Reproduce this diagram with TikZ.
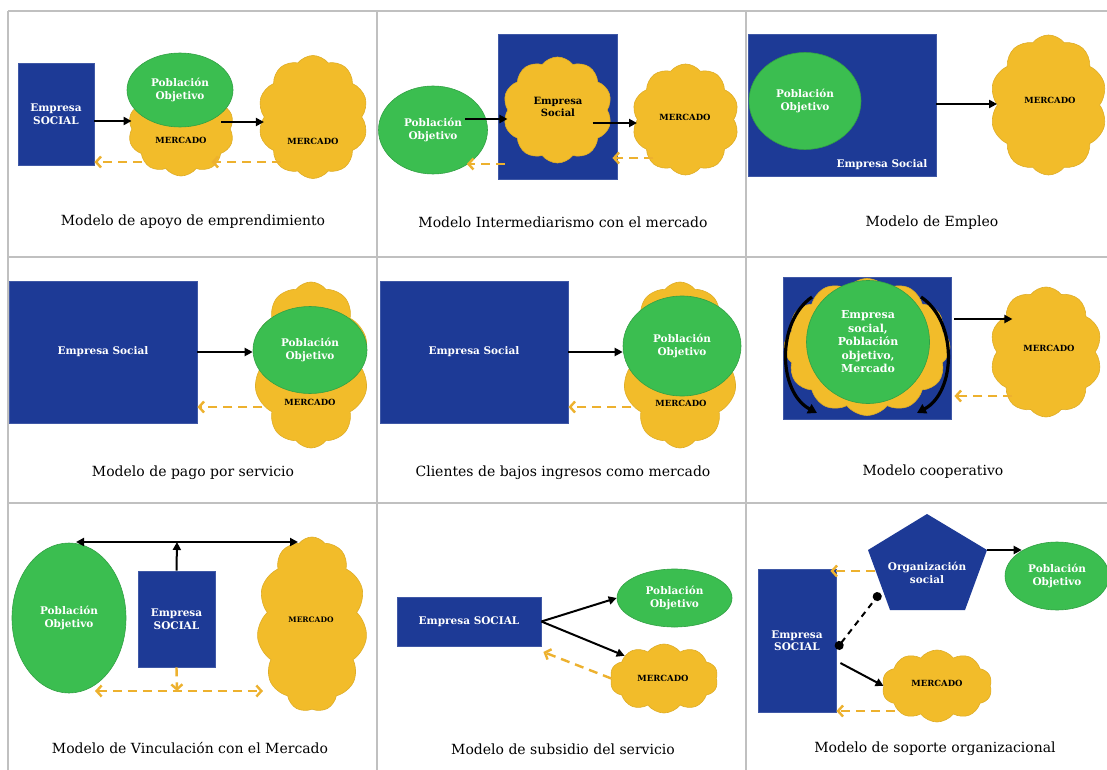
\documentclass[tikz,border=0pt]{standalone}
\usepackage{fontspec}
\setmainfont{DejaVu Serif}
\usetikzlibrary{shapes.geometric,shapes.symbols,arrows.meta}
\definecolor{esblue}{HTML}{1D3A96}
\definecolor{esgreen}{HTML}{3BBE50}
\definecolor{esgold}{HTML}{F2BC2A}
\definecolor{esdash}{HTML}{EDB12E}
\definecolor{gridgray}{HTML}{C0C0C0}
\tikzset{
  gridline/.style={draw=gridgray, line width=1.3pt},
  blk/.style={rectangle, fill=esblue, draw=esblue!85!white, line width=0.8pt, inner sep=0pt, text=white, font=\fontsize{10.5}{12.5}\selectfont\bfseries, align=center},
  lblw/.style={text=white, font=\fontsize{10.5}{12.5}\selectfont\bfseries, align=center, inner sep=0pt},
  lblk/.style={text=black, font=\fontsize{8.5}{10}\selectfont\bfseries, align=center, inner sep=0pt},
  grn/.style={ellipse, fill=esgreen, draw=esgreen!85!black, line width=0.6pt, inner sep=0pt, text=white, font=\fontsize{10.5}{12.5}\selectfont\bfseries, align=center},
  cld/.style={cloud, cloud puffs=10, cloud puff arc=105, cloud ignores aspect, fill=esgold, draw=esgold!92!black, line width=0.6pt, inner sep=0pt},
  captxt/.style={font=\fontsize{14}{16}\selectfont, text=black, inner sep=0pt},
  arr/.style={draw=black, line width=2pt, -{Triangle[length=8pt,width=8pt]}},
  darr/.style={draw=esdash, line width=2.4pt, dash pattern=on 9pt off 6pt, -{Straight Barb[length=5pt,width=11pt,line width=2.4pt]}},
}
\begin{document}
\begin{tikzpicture}[x=1pt,y=-1pt]
\useasboundingbox (0,0) rectangle (1107,770);
\fill[white] (0,0) rectangle (1107,770);
% grid
\draw[gridline] (8,11) -- (1107,11);
\draw[gridline] (8,257) -- (1107,257);
\draw[gridline] (8,503) -- (1107,503);
\draw[gridline] (8,11) -- (8,770);
\draw[gridline] (377,11) -- (377,770);
\draw[gridline] (746,11) -- (746,770);

% ---------- Cell 1: apoyo de emprendimiento
\node[blk, minimum width=76pt, minimum height=102pt] (r1) at (56,114) {Empresa\\SOCIAL};
\node[cld, minimum width=106pt, minimum height=94pt] (c1a) at (181,129) {};
\node[grn, minimum width=106pt, minimum height=74pt] (e1) at (180,90) {Población\\Objetivo};
\node[lblk] (m1a) at (181,140) {MERCADO};
\node[cld, minimum width=110pt, minimum height=123pt] (c1b) at (313,117) {};
\node[lblk] (m1b) at (313,141) {MERCADO};
\draw[arr] (r1.east |- 0,121) -- (c1a.west |- 0,121);
\draw[arr] ([xshift=-9pt]c1a.east |- 0,122) -- (c1b.west |- 0,122);
\draw[darr] ([xshift=10pt]c1a.west |- 0,162) -- (r1.east |- 0,162);
\draw[darr] ([xshift=17pt]c1b.west |- 0,162) -- ([xshift=-19pt]c1a.east |- 0,162);
\node[captxt] (t1) at (193,222) {Modelo de apoyo de emprendimiento};

% ---------- Cell 2: intermediarismo
\node[blk, minimum width=119pt, minimum height=145pt] (r2) at (557.5,106.5) {};
\node[cld, minimum width=109pt, minimum height=106pt] (c2a) at (557.5,110) {};
\node[lblk, font=\fontsize{10}{12}\selectfont\bfseries] (s2) at (558,107) {Empresa\\Social};
\node[grn, minimum width=109pt, minimum height=88pt] (e2) at (433,130) {Población\\Objetivo};
\node[cld, minimum width=107pt, minimum height=111pt] (c2b) at (685.5,119.5) {};
\node[lblk] (m2) at (685,117) {MERCADO};
\draw[arr] ([xshift=-23pt]e2.east |- 0,119) -- (c2a.west |- 0,119);
\draw[arr] ([xshift=-15pt]c2a.east |- 0,123) -- (c2b.west |- 0,123);
\draw[darr] ([xshift=7pt]r2.west |- 0,164) -- ([xshift=-21pt]e2.east |- 0,164);
\draw[darr] ([xshift=16pt]c2b.west |- 0,158) -- ([xshift=-5pt]r2.east |- 0,158);
\node[captxt] (t2) at (563,222) {Modelo Intermediarismo con el mercado};

% ---------- Cell 3: empleo
\node[blk, minimum width=188pt, minimum height=142pt] (r3) at (842,105) {};
\node[grn, minimum width=112pt, minimum height=97pt] (e3) at (805,101) {Población\\Objetivo};
\node[lblw] (s3) at (882,165) {Empresa Social};
\node[cld, minimum width=117pt, minimum height=140pt] (c3) at (1048.5,105) {};
\node[lblk] (m3) at (1050,100) {MERCADO};
\draw[arr] (r3.east |- 0,104) -- (c3.west |- 0,104);
\node[captxt] (t3) at (932,223) {Modelo de Empleo};

% ---------- Cell 4: pago por servicio
\node[blk, minimum width=188pt, minimum height=142pt] (r4) at (103,352) {Empresa Social};
\node[cld, minimum width=116pt, minimum height=166pt] (c4) at (311,365) {};
\node[grn, minimum width=114pt, minimum height=87pt] (e4) at (310,350) {Población\\Objetivo};
\node[lblk] (m4) at (310,402) {MERCADO};
\draw[arr] (r4.east |- 0,352) -- (e4.west |- 0,352);
\draw[darr] (c4.west |- 0,407) -- (r4.east |- 0,407);
\node[captxt] (t4) at (193,473) {Modelo de pago por servicio};

% ---------- Cell 5: clientes de bajos ingresos
\node[blk, minimum width=188pt, minimum height=142pt] (r5) at (474,352) {Empresa Social};
\node[cld, minimum width=116pt, minimum height=166pt] (c5) at (680,365) {};
\node[grn, minimum width=118pt, minimum height=100pt] (e5) at (682,346) {Población\\Objetivo};
\node[lblk] (m5) at (681,403) {MERCADO};
\draw[arr] (r5.east |- 0,352) -- (e5.west |- 0,352);
\draw[darr] (c5.west |- 0,407) -- (r5.east |- 0,407);
\node[captxt] (t5) at (563,473) {Clientes de bajos ingresos como mercado};

% ---------- Cell 6: cooperativo
\node[blk, minimum width=168pt, minimum height=142pt] (r6) at (867,348) {};
\node[cld, cloud puffs=12, minimum width=166pt, minimum height=137pt] (c6a) at (867,347) {};
\node[grn, circle, minimum size=123pt, font=\fontsize{11}{13.5}\selectfont\bfseries] (e6) at (868,342) {Empresa\\social,\\Población\\objetivo,\\Mercado};
\coordinate (l6a) at (812,297);
\coordinate (l6b) at (817,413);
\coordinate (r6a) at (921,297);
\coordinate (r6b) at (917,413);
\draw[draw=black, line width=3.2pt, -{Triangle[length=9pt,width=10pt]}] (l6a) .. controls (776,322) and (778,392) .. (l6b);
\draw[draw=black, line width=3.2pt, -{Triangle[length=9pt,width=10pt]}] (r6a) .. controls (958,322) and (956,392) .. (r6b);
\node[cld, minimum width=112pt, minimum height=130pt] (c6b) at (1046,352) {};
\node[lblk] (m6) at (1049,348) {MERCADO};
\draw[arr] ([xshift=3pt]r6.east |- 0,319) -- ([xshift=16pt]c6b.west |- 0,319);
\draw[darr] ([xshift=16pt]c6b.west |- 0,396) -- ([xshift=3pt]r6.east |- 0,396);
\node[captxt] (t6) at (933,472) {Modelo cooperativo};

% ---------- Cell 7: vinculacion
\node[grn, minimum width=114pt, minimum height=150pt] (e7) at (69,618) {Población\\Objetivo};
\node[blk, minimum width=77pt, minimum height=96pt] (r7) at (176.5,619) {Empresa\\SOCIAL};
\node[cld, cloud puffs=11, minimum width=110pt, minimum height=175pt] (c7) at (312,624.5) {};
\node[lblk, font=\fontsize{7.5}{9}\selectfont\bfseries] (m7) at (311,620) {MERCADO};
\coordinate (j7) at (177,542);
\coordinate (a7) at (76,542);
\coordinate (b7) at (298,542);
\coordinate (k7) at (177,691);
\coordinate (p7) at (95,691);
\coordinate (q7) at (263,691);
\draw[arr] (r7.north) -- (j7);
\draw[draw=black, line width=2pt, {Triangle[length=8pt,width=8pt]}-{Triangle[length=8pt,width=8pt]}] (a7) -- (b7);
\draw[darr] (r7.south) -- (k7);
\draw[darr, {Straight Barb[length=5pt,width=11pt,line width=2.4pt]}-{Straight Barb[length=5pt,width=11pt,line width=2.4pt]}] (p7) -- (q7);
\node[captxt] (t7) at (190,748) {Modelo de Vinculación con el Mercado};

% ---------- Cell 8: subsidio
\node[blk, minimum width=144pt, minimum height=49pt] (r8) at (469,621.5) {Empresa SOCIAL};
\node[grn, minimum width=115pt, minimum height=58pt] (e8) at (674.5,598) {Población\\Objetivo};
\node[cld, minimum width=108pt, minimum height=69pt] (c8) at (664,678.5) {};
\node[lblk] (m8) at (663,678) {MERCADO};
\draw[arr] (r8.east) -- (e8.west);
\draw[arr] (r8.east) -- (c8.150);
\draw[darr] (c8.west) -- ([xshift=2pt]r8.east |- 0,652);
\node[captxt] (t8) at (563,749) {Modelo de subsidio del servicio};

% ---------- Cell 9: soporte organizacional
\node[blk, minimum width=78pt, minimum height=143pt] (r9) at (797,640.5) {Empresa\\SOCIAL};
\coordinate (pT) at (927,514);
\coordinate (pR) at (987,550);
\coordinate (pBR) at (965,610);
\coordinate (pBL) at (890,610);
\coordinate (pLf) at (868,550);
\fill[esblue] (pT) -- (pR) -- (pBR) -- (pBL) -- (pLf) -- cycle;
\node[lblw] (o9) at (927,573) {Organización\\social};
\coordinate (pL) at (875,571);
\coordinate (pD) at (880,593);
\node[grn, minimum width=104pt, minimum height=68pt] (e9) at (1057,576) {Población\\Objetivo};
\node[cld, minimum width=110pt, minimum height=72pt] (c9) at (937,686) {};
\node[lblk] (m9) at (937,683) {MERCADO};
\draw[arr] (pR) -- ([xshift=17pt]e9.west |- pR);
\draw[darr] (pL) -- ([xshift=-6pt]r9.east |- pL);
\draw[draw=black, line width=2pt, dash pattern=on 6pt off 5pt, {Circle[length=9pt]}-{Circle[length=9pt]}] (r9.east |- 0,649) -- (pD);
\draw[arr] ([xshift=4pt]r9.east |- 0,663) -- (c9.west);
\draw[darr] ([xshift=11pt]c9.west |- 0,711) -- (r9.east |- 0,711);
\node[captxt] (t9) at (935,749) {Modelo de soporte organizacional};
\end{tikzpicture}
\end{document}
